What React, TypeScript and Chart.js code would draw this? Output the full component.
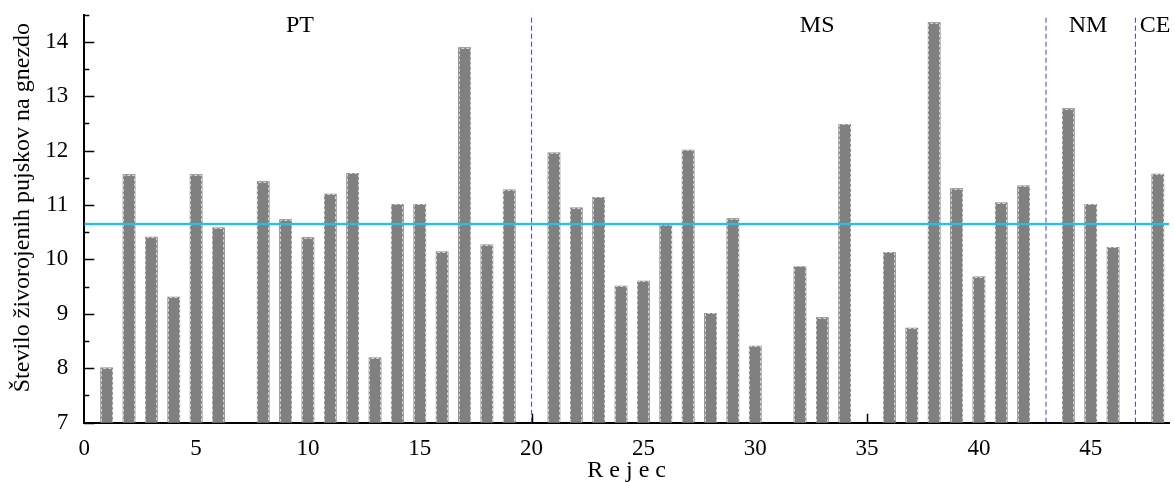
import { useEffect, useRef } from 'react';
import { Chart, registerables } from 'chart.js';

Chart.register(...registerables);

// Rejec (breeder) numbers on the x axis
const rejci = [1, 2, 3, 4, 5, 6, 8, 9, 10, 11, 12, 13, 14, 15, 16, 17, 18, 19, 21, 22, 23, 24, 25, 26, 27, 28, 29, 30, 32, 33, 34, 36, 37, 38, 39, 40, 41, 42, 44, 45, 46, 48];
// Število živorojenih pujskov na gnezdo
const vrednosti = [8.01, 11.56, 10.41, 9.31, 11.56, 10.58, 11.43, 10.73, 10.4, 11.2, 11.58, 8.19, 11.01, 11.01, 10.14, 13.89, 10.27, 11.28, 11.96, 10.95, 11.14, 9.51, 9.6, 10.63, 12.01, 9.01, 10.75, 8.41, 9.87, 8.93, 12.48, 10.13, 8.74, 14.35, 11.3, 9.68, 11.04, 11.35, 12.77, 11.01, 10.22, 11.57];

const povprecje = 10.65;
const meje = [20, 43, 47];
const skupine = ['PT', 'MS', 'NM', 'CE'];
const skupineX = [9.64, 32.77, 44.88, 47.88];
const skupineY = 14.3;

const xMin = 0;
const xMax = 48.5;
const xTickValues = [0, 5, 10, 15, 20, 25, 30, 35, 40, 45];
const yMin = 7;
const yMax = 14.5;
const yTickValues = [7, 8, 9, 10, 11, 12, 13, 14];
const yMinorTickValues = [7.5, 8.5, 9.5, 10.5, 11.5, 12.5, 13.5, 14.5];

const yTitle = 'Število živorojenih pujskov na gnezdo';
const xTitle = 'R e j e c';

const FONT = "'Liberation Serif', 'Times New Roman', serif";

const annotations = {
  id: 'annotations',
  beforeDatasetsDraw(chart: any) {
    const { ctx, chartArea, scales } = chart;
    const x = scales.x;
    const y = scales.y;
    ctx.save();
    ctx.strokeStyle = '#000';
    ctx.lineWidth = 1.5;
    ctx.beginPath();
    yTickValues.forEach((v) => {
      const py = Math.round(y.getPixelForValue(v)) + 0.5;
      ctx.moveTo(chartArea.left, py);
      ctx.lineTo(chartArea.left + 10, py);
    });
    yMinorTickValues.forEach((v) => {
      const py = Math.round(y.getPixelForValue(v)) + 0.5;
      ctx.moveTo(chartArea.left, py);
      ctx.lineTo(chartArea.left + 5, py);
    });
    xTickValues.slice(1).forEach((v) => {
      const px = Math.round(x.getPixelForValue(v)) + 0.5;
      ctx.moveTo(px, chartArea.bottom);
      ctx.lineTo(px, chartArea.bottom - 9);
    });
    ctx.stroke();
    ctx.restore();
  },
  afterDatasetDraw(chart: any, args: any) {
    if (args.index !== 0) return;
    const { ctx, chartArea } = chart;
    const meta = chart.getDatasetMeta(0);
    ctx.save();
    ctx.strokeStyle = '#d4d4d4';
    ctx.lineWidth = 1;
    ctx.setLineDash([3, 2]);
    meta.data.forEach((el: any) => {
      const l = Math.round(el.x - el.width / 2) + 0.5;
      const r = Math.round(el.x + el.width / 2) - 0.5;
      const t = Math.round(el.y) + 0.5;
      const b = Math.min(el.base, chartArea.bottom - 1);
      ctx.beginPath();
      ctx.moveTo(l, b);
      ctx.lineTo(l, t);
      ctx.lineTo(r, t);
      ctx.lineTo(r, b);
      ctx.stroke();
    });
    ctx.restore();
  },
  afterDraw(chart: any) {
    const { ctx, chartArea, scales } = chart;
    const x = scales.x;
    const y = scales.y;
    ctx.save();
    ctx.fillStyle = '#000';
    ctx.font = `24px ${FONT}`;
    ctx.textAlign = 'center';
    ctx.textBaseline = 'middle';
    skupine.forEach((s, i) => {
      ctx.fillText(s, x.getPixelForValue(skupineX[i]), y.getPixelForValue(skupineY));
    });
    ctx.fillText(xTitle, (chartArea.left + chartArea.right) / 2, chartArea.bottom + 48);
    ctx.translate(22.5, (chartArea.top + chartArea.bottom) / 2 - 11);
    ctx.rotate(-Math.PI / 2);
    ctx.fillText(yTitle, 0, 0);
    ctx.restore();
  },
};

export default function App() {
  const canvasRef = useRef<HTMLCanvasElement | null>(null);

  useEffect(() => {
    if (!canvasRef.current) return;
    const chart = new Chart(canvasRef.current, {
      type: 'bar',
      data: {
        datasets: [
          {
            type: 'bar',
            data: rejci.map((r, i) => ({ x: r, y: vrednosti[i] })),
            backgroundColor: '#808080',
            borderWidth: 0,
            barThickness: 12,
            order: 3,
          } as any,
          {
            type: 'line',
            data: [
              { x: xMin, y: povprecje },
              { x: xMax, y: povprecje },
            ],
            borderColor: '#18c4f0',
            borderWidth: 2.2,
            pointRadius: 0,
            order: 1,
          } as any,
          ...meje.map(
            (m) =>
              ({
                type: 'line',
                data: [
                  { x: m, y: yMin },
                  { x: m, y: yMax },
                ],
                borderColor: '#3a3aff',
                borderWidth: 1,
                borderDash: [5, 3],
                pointRadius: 0,
                order: 2,
              }) as any
          ),
        ],
      },
      options: {
        animation: false,
        responsive: true,
        maintainAspectRatio: false,
        layout: { padding: { top: 14.5, right: 6, left: 0, bottom: 0 } },
        plugins: { legend: { display: false }, tooltip: { enabled: false } },
        scales: {
          x: {
            type: 'linear',
            min: xMin,
            max: xMax,
            offset: false,
            grid: { display: false, drawTicks: false, offset: false },
            border: { display: true, color: '#000', width: 2 },
            ticks: {
              padding: 12,
              color: '#000',
              maxRotation: 0,
              autoSkip: false,
              font: { family: FONT, size: 23 },
            },
            afterBuildTicks: (s: any) => {
              s.ticks = xTickValues.map((v) => ({ value: v }));
            },
            afterFit: (s: any) => {
              s.height = 59.3;
              s.paddingLeft = 0;
              s.paddingRight = 0;
            },
          },
          y: {
            type: 'linear',
            min: yMin,
            max: yMax,
            grid: { display: false, drawTicks: false },
            border: { display: true, color: '#000', width: 2 },
            ticks: {
              padding: 16,
              color: '#000',
              autoSkip: false,
              font: { family: FONT, size: 23 },
            },
            afterBuildTicks: (s: any) => {
              s.ticks = yTickValues.map((v) => ({ value: v }));
            },
            afterFit: (s: any) => {
              s.width = 84.3;
              s.paddingTop = 0;
              s.paddingBottom = 0;
            },
          },
        },
      },
      plugins: [annotations],
    });
    return () => chart.destroy();
  }, []);

  return (
    <div style={{ position: 'fixed', left: 0, top: 0, width: 1175, height: 482, background: '#fff' }}>
      <canvas ref={canvasRef} />
    </div>
  );
}
